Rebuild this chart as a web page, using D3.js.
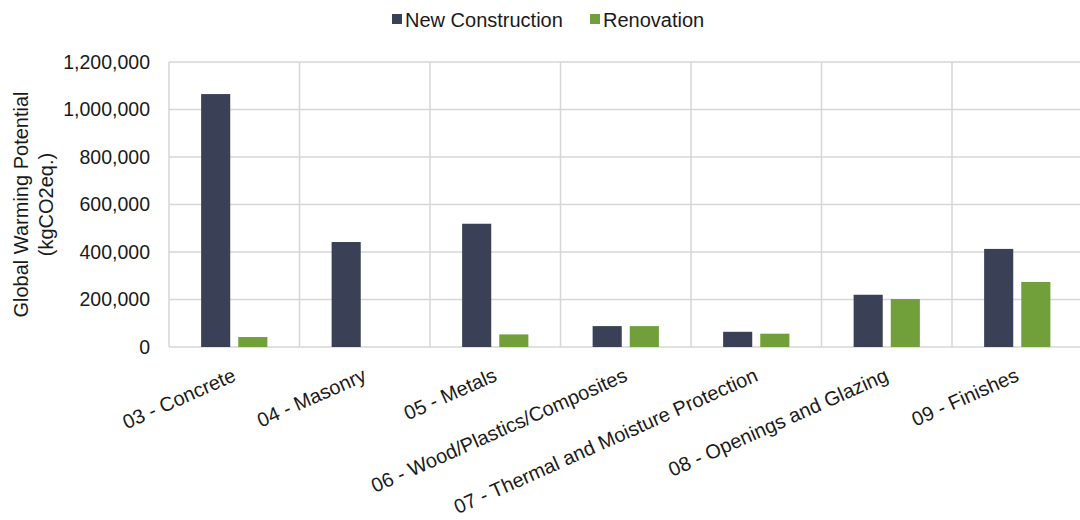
<!DOCTYPE html>
<html>
<head>
<meta charset="utf-8">
<script src="https://cdn.jsdelivr.net/npm/d3@7"></script>
<style>
  html, body { margin: 0; padding: 0; background: #fff; }
  svg { display: block; font-family: "Liberation Sans", Arial, Helvetica, sans-serif; }
</style>
</head>
<body>
<svg id="chart" width="1080" height="520"></svg>
<script>
const categories = [
  "03 - Concrete",
  "04 - Masonry",
  "05 - Metals",
  "06 - Wood/Plastics/Composites",
  "07 - Thermal and Moisture Protection",
  "08 - Openings and Glazing",
  "09 - Finishes"
];
const seriesNames = ["New Construction", "Renovation"];
const newConstruction = [1065000, 442000, 519000, 88000, 64000, 220000, 413000];
const renovation = [42000, 0, 53000, 88000, 56000, 202000, 274000];
const yTicks = [0, 200000, 400000, 600000, 800000, 1000000, 1200000];
const yTitleLines = ["Global Warming Potential", "(kgCO2eq.)"];
const colors = ["#3a4156", "#71a03b"];

const svg = d3.select("#chart");
const margin = { left: 169, top: 62, right: -2.5, bottom: 173 };
const W = 1080, H = 520;
const plotW = W - margin.left - margin.right;
const plotH = H - margin.top - margin.bottom;

const x = d3.scaleBand().domain(categories).range([margin.left, margin.left + plotW]).paddingInner(0).paddingOuter(0);
const xInner = d3.scaleBand().domain(seriesNames).range([0, x.bandwidth()]).paddingInner(0.216).paddingOuter(0.865);
const y = d3.scaleLinear().domain([0, 1200000]).range([margin.top + plotH, margin.top]);

const gridColor = "#d6d6d6";

// horizontal gridlines
svg.append("g").selectAll("line").data(yTicks).join("line")
  .attr("x1", margin.left).attr("x2", margin.left + plotW)
  .attr("y1", d => y(d)).attr("y2", d => y(d))
  .attr("stroke", gridColor).attr("stroke-width", 1.5);

// vertical gridlines (category boundaries)
const bounds = categories.map(c => x(c)).concat([x(categories[categories.length - 1]) + x.bandwidth()]);
svg.append("g").selectAll("line").data(bounds).join("line")
  .attr("x1", d => d).attr("x2", d => d)
  .attr("y1", y(1200000)).attr("y2", y(0))
  .attr("stroke", gridColor).attr("stroke-width", 1.5);

// y axis labels
const yAxis = d3.axisLeft(y).tickValues(yTicks).tickSize(0).tickPadding(19)
  .tickFormat(d3.format(","));
const ga = svg.append("g").attr("transform", `translate(${margin.left},0)`).call(yAxis);
ga.select(".domain").remove();
ga.selectAll("text").attr("font-size", 19.5).attr("fill", "#1a1a1a")
  .attr("font-family", "Liberation Sans, Arial, sans-serif");

// bars
const data = categories.map((c, i) => ({ c, vals: [newConstruction[i], renovation[i]] }));
const groups = svg.append("g").selectAll("g").data(data).join("g")
  .attr("transform", d => `translate(${x(d.c)},0)`);
groups.selectAll("rect").data(d => d.vals.map((v, j) => ({ v, s: seriesNames[j], j })))
  .join("rect")
  .attr("x", d => xInner(d.s))
  .attr("width", xInner.bandwidth())
  .attr("y", d => y(d.v))
  .attr("height", d => y(0) - y(d.v))
  .attr("fill", d => colors[d.j]);

// x labels
svg.append("g").selectAll("text").data(categories).join("text")
  .attr("transform", d => `translate(${x(d) + x.bandwidth() / 2 - 3},${y(0) + 20}) rotate(-24)`)
  .attr("text-anchor", "end")
  .attr("dy", "0.72em")
  .attr("font-size", 20)
  .attr("fill", "#1a1a1a")
  .text(d => d);

// y title
const yt = svg.append("text")
  .attr("transform", `translate(0,${(y(0) + y(1200000)) / 2}) rotate(-90)`)
  .attr("text-anchor", "middle")
  .attr("font-size", 20)
  .attr("fill", "#1a1a1a");
yt.selectAll("tspan").data(yTitleLines).join("tspan")
  .attr("x", 0)
  .attr("y", (d, i) => 28 + i * 25)
  .text(d => d);

// legend
const legendItems = [
  { name: seriesNames[0], color: colors[0], x: 392 },
  { name: seriesNames[1], color: colors[1], x: 590 }
];
const lg = svg.append("g").selectAll("g").data(legendItems).join("g")
  .attr("transform", d => `translate(${d.x},0)`);
lg.append("rect").attr("x", 0).attr("y", 14).attr("width", 10).attr("height", 10).attr("fill", d => d.color);
lg.append("text").attr("x", 13).attr("y", 26.5).attr("font-size", 20).attr("fill", "#1a1a1a").text(d => d.name);
</script>
</body>
</html>
